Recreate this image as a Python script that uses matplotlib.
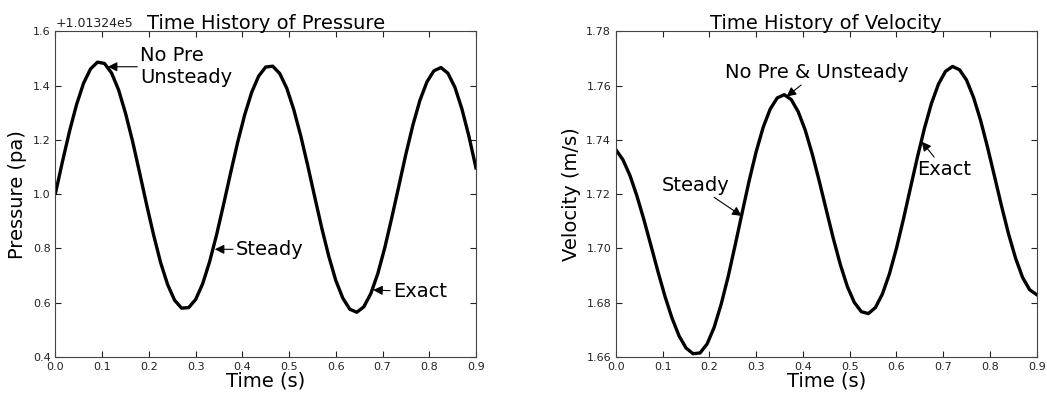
import matplotlib.pyplot as plt
import numpy as np

# sample times (s), shared by both histories
time = np.round(np.arange(0, 0.9001, 0.015), 3)

# pressure, stored relative to the reference level below
p_ref = 101324.0
pressure_rel = [
    1.004, 1.121, 1.232, 1.330, 1.409, 1.462, 1.487, 1.482, 1.447, 1.385,
    1.298, 1.195, 1.080, 0.962, 0.850, 0.748, 0.667, 0.609, 0.580, 0.582,
    0.612, 0.670, 0.752, 0.852, 0.964, 1.080, 1.192, 1.293, 1.376, 1.436,
    1.469, 1.472, 1.445, 1.391, 1.312, 1.215, 1.105, 0.989, 0.875, 0.771,
    0.682, 0.617, 0.576, 0.565, 0.585, 0.634, 0.708, 0.804, 0.915, 1.031,
    1.148, 1.255, 1.346, 1.414, 1.455, 1.467, 1.446, 1.394, 1.314, 1.213,
    1.097,
]
pressure = p_ref + np.array(pressure_rel)

velocity = [
    1.7364, 1.7327, 1.7269, 1.7193, 1.7105, 1.7010, 1.6914, 1.6823, 1.6743, 1.6678,
    1.6633, 1.6612, 1.6615, 1.6648, 1.6709, 1.6794, 1.6896, 1.7012, 1.7132, 1.7250,
    1.7357, 1.7447, 1.7514, 1.7555, 1.7567, 1.7549, 1.7504, 1.7436, 1.7348, 1.7248,
    1.7142, 1.7037, 1.6941, 1.6860, 1.6801, 1.6767, 1.6760, 1.6782, 1.6832, 1.6906,
    1.7000, 1.7108, 1.7223, 1.7337, 1.7443, 1.7535, 1.7606, 1.7653, 1.7671, 1.7659,
    1.7621, 1.7557, 1.7473, 1.7373, 1.7265, 1.7156, 1.7053, 1.6964, 1.6893, 1.6848,
    1.6830,
]

FS = 14
arrow = dict(arrowstyle='-|>', color='black', lw=0.8, shrinkA=0, shrinkB=0)

fig = plt.figure(figsize=(10.47, 3.96), dpi=100)
ax1 = fig.add_axes([0.053, 0.0985, 0.4016, 0.822])
ax2 = fig.add_axes([0.5883, 0.0985, 0.4018, 0.822])

for ax in (ax1, ax2):
    ax.tick_params(direction='in', top=True, right=True, labelsize=8,
                   length=4, colors='#222222')
    for s in ax.spines.values():
        s.set_color('#444444')
    ax.set_xlim(0, 0.9)
    ax.set_xticks(np.arange(0, 0.91, 0.1))
    ax.set_xlabel('Time (s)', fontsize=FS, labelpad=0)

# pressure
ax1.plot(time, pressure, color='black', lw=2.4)
ax1.set_ylim(p_ref + 0.4, p_ref + 1.6)
ax1.ticklabel_format(axis='y', useOffset=p_ref)
ax1.yaxis.get_offset_text().set_fontsize(9)
ax1.set_ylabel('Pressure (pa)', fontsize=FS)
ax1.set_title('Time History of Pressure', fontsize=FS, pad=2)
ax1.annotate('No Pre\nUnsteady', xy=(0.112, p_ref + 1.470),
             xytext=(0.181, p_ref + 1.470), fontsize=FS, va='center',
             ha='left', arrowprops=arrow)
ax1.annotate('Steady', xy=(0.341, p_ref + 0.797), xytext=(0.386, p_ref + 0.797),
             fontsize=FS, va='center', ha='left', arrowprops=arrow)
ax1.annotate('Exact', xy=(0.680, p_ref + 0.647), xytext=(0.722, p_ref + 0.640),
             fontsize=FS, va='center', ha='left', arrowprops=arrow)

# velocity
ax2.plot(time, velocity, color='black', lw=2.4)
ax2.set_ylim(1.66, 1.78)
ax2.set_yticks(np.arange(1.66, 1.781, 0.02))
ax2.set_ylabel('Velocity (m/s)', fontsize=FS)
ax2.set_title('Time History of Velocity', fontsize=FS, pad=2)
ax2.annotate('No Pre & Unsteady', xy=(0.365, 1.756), xytext=(0.4295, 1.7648),
             fontsize=FS, va='center', ha='center', arrowprops=arrow)
ax2.annotate('Steady', xy=(0.269, 1.712), xytext=(0.171, 1.7234),
             fontsize=FS, va='center', ha='center', arrowprops=arrow)
ax2.annotate('Exact', xy=(0.654, 1.7394), xytext=(0.702, 1.7292),
             fontsize=FS, va='center', ha='center', arrowprops=arrow)

fig.savefig('out.png', dpi=100, facecolor='white')
